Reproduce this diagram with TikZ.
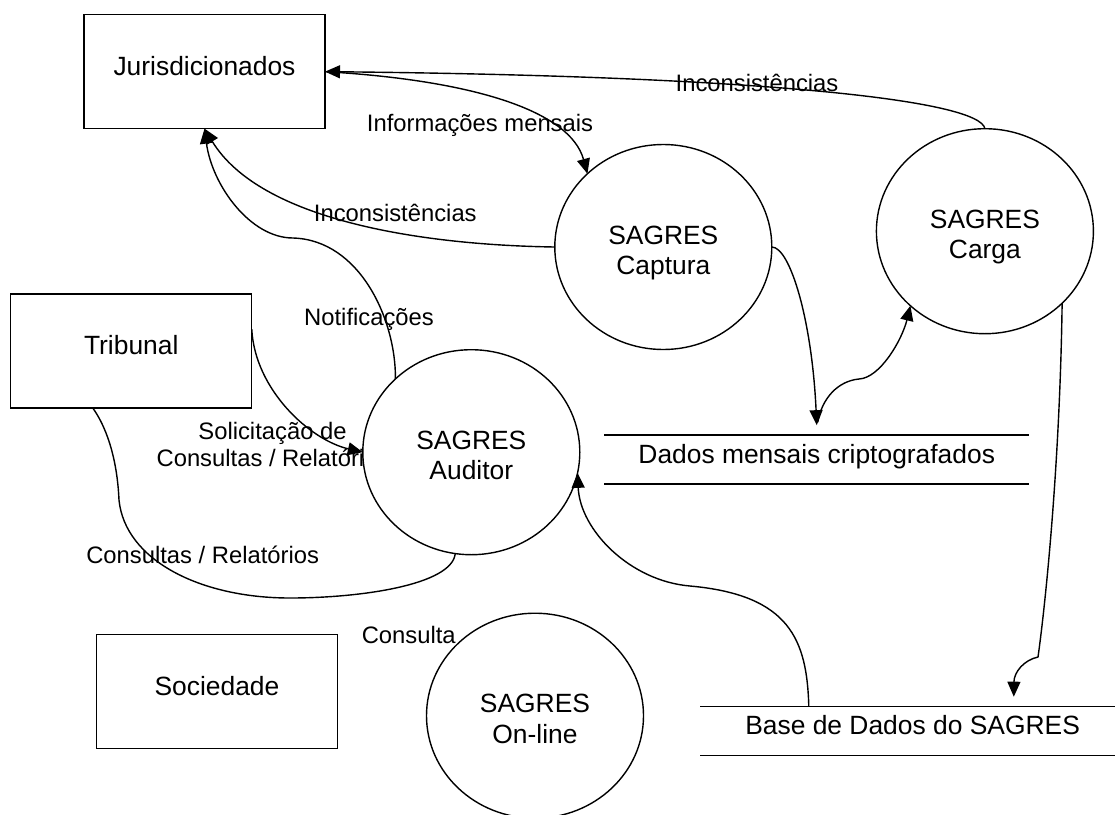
\documentclass[tikz,border=0pt]{standalone}
\usepackage{fontspec}
\setmainfont{Liberation Sans}
\usetikzlibrary{arrows.meta,shapes.geometric,calc}
\newcommand\dfdnodefont{\fontsize{26.4pt}{30.5pt}\selectfont}
\newcommand\dfdlblfont{\fontsize{23.8pt}{27pt}\selectfont}
\begin{document}
\begin{tikzpicture}[x=1pt,y=-1pt,
  every node/.style={inner sep=0pt, outer sep=0pt},
  lw/.style={line width=1.4pt},
  box/.style={draw, lw, rectangle, minimum width=241pt, minimum height=114pt, font=\dfdnodefont, text height=19pt, text depth=11.5pt},
  proc/.style={draw, lw, ellipse, fill=white, minimum width=217pt, minimum height=205pt, font=\dfdnodefont, align=center, text height=55.4pt, text depth=0pt},
  store/.style={rectangle, minimum width=425pt, minimum height=49pt, font=\dfdnodefont, text height=19pt, text depth=12pt},
  storeline/.style={lw},
  lbl/.style={font=\dfdlblfont, anchor=base},
  flow/.style={lw, -{Triangle[length=15pt,width=13pt]}},
  plain/.style={lw}
]
\useasboundingbox[fill=white] (0,0) rectangle (1115,814);

% labels (drawn first so that the process circles may cover them)
\node[lbl] (l1) at (757,91.7) {Inconsistências};
\node[lbl] (l2) at (480,131) {Informações mensais};
\node[lbl] (l3) at (395.3,221.7) {Inconsistências};
\node[lbl] (l4) at (369,325) {Notificações};
\node[lbl] (l5a) at (272.5,439.3) {Solicitação de};
\node[lbl] (l5b) at (273,466) {Consultas / Relatórios};
\node[lbl] (l6) at (202.7,563.3) {Consultas / Relatórios};
\node[lbl] (l7) at (408.75,643.3) {Consulta};

% external entities
\node[box] (jur) at (204.5,71.65) {Jurisdicionados};
\node[box] (trib) at (131.25,350.85) {Tribunal};
\node[box] (soc) at (216.95,691.65) {Sociedade};

% processes
\node[proc] (captura) at (663.3,247) {SAGRES\\Captura};
\node[proc] (carga) at (984.9,231.2) {SAGRES\\Carga};
\node[proc] (auditor) at (471.3,452.2) {SAGRES\\Auditor};
\node[proc] (online) at (535,715.7) {SAGRES\\On-line};

% data stores
\node[store] (dados) at (816.75,459.65) {Dados mensais criptografados};
\draw[storeline] (dados.north west) -- (dados.north east) (dados.south west) -- (dados.south east);
\node[store] (base) at (912.6,731.2) {Base de Dados do SAGRES};
\draw[storeline] (base.north west) -- (base.north east) (base.south west) -- (base.south east);

% flows
\draw[flow] (carga.north) .. controls (980,100) and (760,76) .. (jur.east);
\draw[flow] (jur.east) .. controls (470,80) and (570,110) .. (captura.136);
\draw[flow] (captura.west) .. controls (420,245) and (260,220) .. (jur.south);
\draw[flow] (auditor.136) .. controls (396,320) and (360,240) .. (293,238) .. controls (250,238) and (212,185) .. (jur.south);
\draw[flow] ($(trib.north east)!0.31!(trib.south east)$) .. controls (255,390) and (310,440) .. (auditor.west);
\draw[plain] (auditor.261) .. controls (452,585) and (360,598) .. (290,598) .. controls (200,598) and (125,560) .. (119,500) .. controls (117,455) and (105,425) .. ($(trib.south west)!0.34!(trib.south east)$);
\draw[flow] (captura.east) .. controls (790,247) and (812,320) .. ($(dados.north)+(0,-10)$);
\draw[flow] ($(dados.north)+(1,-13)$) .. controls (822,398) and (838,381) .. (859,379) .. controls (880,378) and (902,340) .. (carga.225);
\draw[flow] (carga.-43) .. controls (1060,460) and (1046,600) .. (1038,657) .. controls (1024,660) and (1014,672) .. ($(base.north west)+(313.7,-10)$);
\draw[flow] ($(base.north west)+(108.7,0)$) .. controls (807,640) and (790,595) .. (690,586) .. controls (630,581) and (580,530) .. (auditor.-11);
\end{tikzpicture}
\end{document}
